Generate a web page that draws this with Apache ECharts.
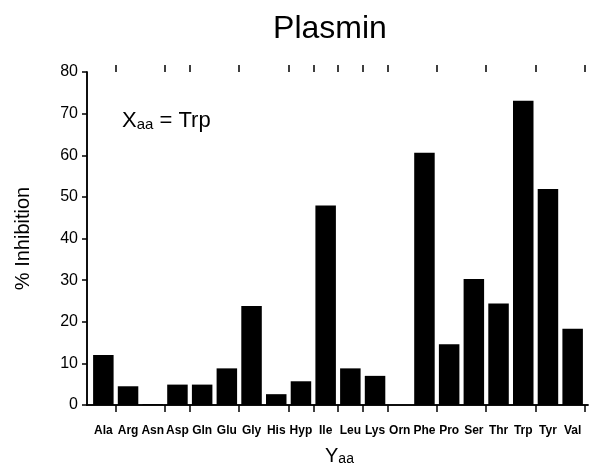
<!DOCTYPE html>
<html><head><meta charset="utf-8">
<script src="https://cdn.jsdelivr.net/npm/echarts@6/dist/echarts.min.js"></script>
<style>html,body{margin:0;padding:0;background:#fff}#c{width:589px;height:470px}</style>
</head><body><div id="c"></div>
<script>
const categories = ['Ala','Arg','Asn','Asp','Gln','Glu','Gly','His','Hyp','Ile','Leu','Lys','Orn','Phe','Pro','Ser','Thr','Trp','Tyr','Val'];
const inhibition = [12.0, 4.5, 0.2, 4.9, 4.9, 8.8, 23.8, 2.6, 5.7, 47.9, 8.8, 7.0, 0, 60.6, 14.6, 30.3, 24.4, 73.1, 51.9, 18.3];
const yTicks = [0, 10, 20, 30, 40, 50, 60, 70, 80];
const tickedBoundaries = [1,3,4,6,8,9,10,11,12,14,16,18];

const FONT = 'Liberation Sans, Arial, sans-serif';
const chart = echarts.init(document.getElementById('c'));
const lineStyle = {color:'#000', width:1.5};
chart.setOption({
  animation:false,
  textStyle:{fontFamily:FONT},
  title:{text:'Plasmin', left:325, top:8, textAlign:'center',
    textStyle:{fontFamily:FONT, fontSize:32, fontWeight:'normal', color:'#000'}},
  grid:[
    {left:87, right:1, top:72, bottom:65},
    {left:91, right:4, top:72, bottom:65}
  ],
  xAxis:[
    {gridIndex:0, type:'value', position:'bottom', min:0, max:1,
      axisLine:{show:true, lineStyle}, axisTick:{show:false}, axisLabel:{show:false}, splitLine:{show:false}},
    {gridIndex:0, type:'value', position:'top', min:0, max:1,
      axisLine:{show:true, lineStyle}, axisTick:{show:false}, axisLabel:{show:false}, splitLine:{show:false}},
    {gridIndex:1, type:'category', data:categories, position:'bottom', boundaryGap:true,
      axisLine:{show:false},
      axisTick:{show:true, length:7, lineStyle, interval:(i)=>tickedBoundaries.includes(i)},
      axisLabel:{show:true, interval:0, margin:20, fontSize:12, fontWeight:'bold', color:'#000', fontFamily:FONT}},
    {gridIndex:1, type:'category', data:categories, position:'top', boundaryGap:true,
      axisLine:{show:false},
      axisTick:{show:true, length:7, lineStyle, interval:(i)=>tickedBoundaries.includes(i)},
      axisLabel:{show:false}}
  ],
  yAxis:[
    {gridIndex:0, type:'value', min:yTicks[0], max:yTicks[yTicks.length-1], interval:10, position:'left',
      name:'% Inhibition', nameLocation:'middle', nameGap:54, nameRotate:90,
      nameTextStyle:{fontSize:20, color:'#000', fontFamily:FONT},
      axisLine:{show:true, lineStyle}, axisTick:{show:true, length:4, lineStyle},
      axisLabel:{fontSize:16, color:'#000', margin:9, fontFamily:FONT}, splitLine:{show:false}},
    {gridIndex:0, type:'value', min:yTicks[0], max:yTicks[yTicks.length-1], interval:10, position:'right',
      axisLine:{show:true, lineStyle}, axisTick:{show:true, inside:true, length:5, lineStyle},
      axisLabel:{show:false}, splitLine:{show:false}},
    {gridIndex:1, type:'value', min:yTicks[0], max:yTicks[yTicks.length-1], show:false}
  ],
  series:[{type:'bar', xAxisIndex:2, yAxisIndex:2, data:inhibition, barCategoryGap:'17%',
    itemStyle:{color:'#000'}}],
  graphic:[
    {type:'text', left:122, top:110, style:{
      text:'{x|X}{s|aa}{x| = Trp}', fill:'#000', font:'22px '+FONT,
      rich:{x:{fontSize:22, fontFamily:FONT, verticalAlign:'bottom', lineHeight:26},
            s:{fontSize:15, fontFamily:FONT, verticalAlign:'bottom', lineHeight:20}}}},
    {type:'text', left:325, top:446, style:{
      text:'{x|Y}{s|aa}', fill:'#000', font:'20px '+FONT,
      rich:{x:{fontSize:20, fontFamily:FONT, verticalAlign:'bottom', lineHeight:24},
            s:{fontSize:14, fontFamily:FONT, verticalAlign:'bottom', lineHeight:18}}}}
  ]
});
</script></body></html>
